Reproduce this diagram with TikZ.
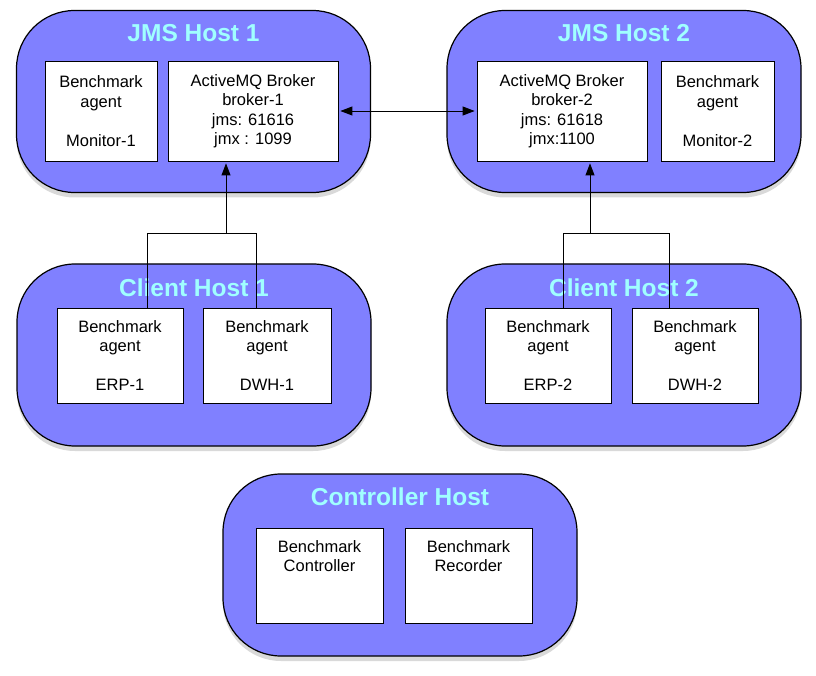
\documentclass[tikz,border=0pt]{standalone}
\usepackage{fontspec}
\setmainfont{Liberation Sans}
\usetikzlibrary{arrows.meta, shadows}
\definecolor{hostblue}{RGB}{128,128,255}
\definecolor{hosttext}{RGB}{160,255,255}
\tikzstyle{host} = [rectangle, rounded corners=58pt, minimum width=354pt, minimum height=182pt, draw=black, line width=1.2pt, fill=hostblue, drop shadow={shadow xshift=0pt, shadow yshift=-5pt, opacity=0.3}]
\tikzstyle{hosttitle} = [font=\fontsize{24.5}{28}\selectfont\bfseries, text=hosttext, inner sep=0pt]
\tikzstyle{agentbox} = [rectangle, draw=black, fill=white, line width=0.8pt, align=center, inner sep=0pt, font=\fontsize{16.5}{19.5}\selectfont]
\tikzstyle{arrow} = [line width=0.9pt, -{Triangle[length=12pt,width=9pt]}, shorten >=2pt]
\tikzstyle{bothways} = [line width=0.9pt, {Triangle[length=12pt,width=9pt]}-{Triangle[length=12pt,width=9pt]}, shorten >=2pt, shorten <=2pt]
\tikzstyle{link} = [line width=0.9pt]
\begin{document}
\begin{tikzpicture}[x=1pt, y=-1pt]
    \useasboundingbox (0,0) rectangle (816,676);

    % hosts
    \node (jms1) [host] at (193.5,101.5) {};
    \node (jms2) [host] at (624,101.5) {};
    \node (client1) [host] at (194,355) {};
    \node (client2) [host] at (624,355) {};
    \node (ctrlhost) [host] at (400,565) {};

    \node (jms1title) [hosttitle] at ([yshift=-23pt]jms1.north) {JMS Host 1};
    \node (jms2title) [hosttitle] at ([yshift=-23pt]jms2.north) {JMS Host 2};
    \node (client1title) [hosttitle] at ([yshift=-24pt]client1.north) {Client Host 1};
    \node (client2title) [hosttitle] at ([yshift=-24pt]client2.north) {Client Host 2};
    \node (ctrltitle) [hosttitle] at ([yshift=-23pt]ctrlhost.north) {Controller Host};

    % boxes
    \node (monitor1) [agentbox, minimum width=112pt, minimum height=100pt] at (101,111) {Benchmark\\agent\\\mbox{}\\Monitor-1};
    \node (broker1) [agentbox, minimum width=170pt, minimum height=100pt] at (253,111) {ActiveMQ Broker\\broker-1\\jms: 61616\\jmx : 1099};
    \node (broker2) [agentbox, minimum width=170pt, minimum height=100pt] at (562,111) {ActiveMQ Broker\\broker-2\\jms: 61618\\jmx:1100};
    \node (monitor2) [agentbox, minimum width=113pt, minimum height=100pt] at (717.5,111) {Benchmark\\agent\\\mbox{}\\Monitor-2};

    \node (erp1) [agentbox, minimum width=126pt, minimum height=95pt] at (120,355.5) {Benchmark\\agent\\\mbox{}\\ERP-1};
    \node (dwh1) [agentbox, minimum width=128pt, minimum height=95pt] at (267,355.5) {Benchmark\\agent\\\mbox{}\\DWH-1};
    \node (erp2) [agentbox, minimum width=126pt, minimum height=95pt] at (548,355.5) {Benchmark\\agent\\\mbox{}\\ERP-2};
    \node (dwh2) [agentbox, minimum width=126pt, minimum height=95pt] at (695,355.5) {Benchmark\\agent\\\mbox{}\\DWH-2};

    \node (controller) [agentbox, minimum width=127pt, minimum height=95pt] at (319.5,575.5) {Benchmark\\Controller\\\mbox{}\\\mbox{}};
    \node (recorder) [agentbox, minimum width=127pt, minimum height=95pt] at (468.5,575.5) {Benchmark\\Recorder\\\mbox{}\\\mbox{}};

    % connectors
    \coordinate (join1) at (226,233);
    \coordinate (join2) at (590,233);

    \draw [link] ([xshift=27pt]erp1.north) |- (join1);
    \draw [link] ([xshift=-11pt]dwh1.north) |- (join1);
    \draw [arrow] (join1) -- (join1 |- broker1.south);

    \draw [link] ([xshift=15pt]erp2.north) |- (join2);
    \draw [link] ([xshift=-26pt]dwh2.north) |- (join2);
    \draw [arrow] (join2) -- (join2 |- broker2.south);

    \draw [bothways] (broker1.east) -- (broker2.west);

\end{tikzpicture}
\end{document}
